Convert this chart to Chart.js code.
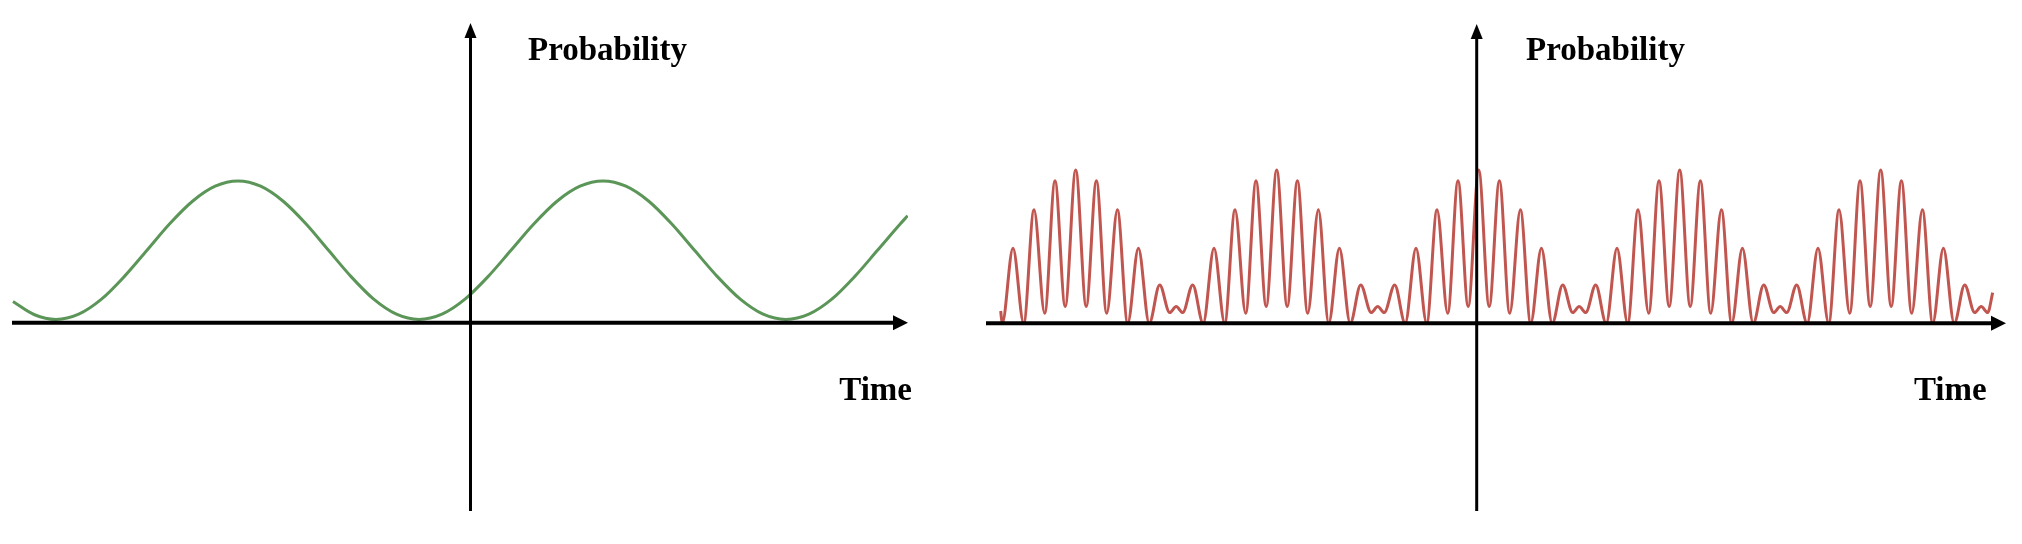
<!DOCTYPE html>
<html lang="en">
<head>
    <meta charset="UTF-8">
    <title>Probability vs Time</title>
    <script src="https://cdn.jsdelivr.net/npm/chart.js"></script>
    <style>
        body { margin: 0; background: #fff; }
        #wrap { position: relative; width: 2022px; height: 544px; background: #fff; }
        #wrap canvas { position: absolute; top: 0; }
    </style>
</head>
<body>
    <div id="wrap">
        <canvas id="leftChart" width="975" height="544" style="left:0"></canvas>
        <canvas id="rightChart" width="1047" height="544" style="left:975px"></canvas>
    </div>

    <script>
        // axis titles
        const yTitle = 'Probability';
        const xTitle = 'Time';

        // left panel: slow oscillation (time in 100px units, prob normalised to the peak)
        const greenTime = [-4.575, -4.360, -4.145, -3.918, -3.690, -3.463, -3.235, -3.008, -2.780, -2.553,
            -2.325, -2.099, -1.873, -1.646, -1.420, -1.194, -0.968, -0.741, -0.515, -0.285,
            -0.055, 0.175, 0.405, 0.635, 0.865, 1.095, 1.325, 1.554, 1.783, 2.011,
            2.240, 2.469, 2.698, 2.926, 3.155, 3.384, 3.613, 3.841, 4.070, 4.299, 4.372];
        const greenProb = [0.149, 0.056, 0.023, 0.060, 0.166, 0.325, 0.511, 0.698, 0.857, 0.963,
            1.0, 0.963, 0.857, 0.698, 0.511, 0.325, 0.166, 0.060, 0.023, 0.060,
            0.166, 0.325, 0.511, 0.698, 0.857, 0.963, 1.0, 0.963, 0.857, 0.698,
            0.511, 0.325, 0.166, 0.060, 0.023, 0.060, 0.166, 0.325, 0.511, 0.698, 0.755];

        // right panel: fast oscillation with beats (peaks and troughs)
        const redTime = [
            -4.760, -4.745, -4.637, -4.530, -4.427, -4.320, -4.217, -4.115, -4.010, -3.905,
            -3.803, -3.700, -3.593, -3.490, -3.383, -3.275, -3.170, -3.070, -3.005, -2.940,
            -2.840, -2.735, -2.627, -2.520, -2.417, -2.310, -2.207, -2.105, -2.000, -1.895,
            -1.793, -1.690, -1.583, -1.480, -1.373, -1.265, -1.160, -1.055, -0.990, -0.925,
            -0.820, -0.715, -0.607, -0.500, -0.397, -0.290, -0.187, -0.085, 0.020, 0.125,
            0.227, 0.330, 0.437, 0.540, 0.647, 0.755, 0.860, 0.960, 1.025, 1.090,
            1.190, 1.295, 1.403, 1.510, 1.613, 1.720, 1.823, 1.925, 2.030, 2.135,
            2.237, 2.340, 2.447, 2.550, 2.657, 2.765, 2.870, 2.970, 3.035, 3.100,
            3.200, 3.305, 3.413, 3.520, 3.623, 3.730, 3.833, 3.935, 4.040, 4.145,
            4.247, 4.350, 4.457, 4.560, 4.667, 4.775, 4.880, 4.980, 5.045, 5.110,
            5.160
        ];
        const redProb = [
            0.08, 0, 0.49, 0, 0.74, 0.065, 0.93, 0.11, 1.00, 0.11,
            0.93, 0.065, 0.74, 0, 0.49, 0, 0.25, 0.07, 0.11, 0.07,
            0.25, 0, 0.49, 0, 0.74, 0.065, 0.93, 0.11, 1.00, 0.11,
            0.93, 0.065, 0.74, 0, 0.49, 0, 0.25, 0.07, 0.11, 0.07,
            0.25, 0, 0.49, 0, 0.74, 0.065, 0.93, 0.11, 1.00, 0.11,
            0.93, 0.065, 0.74, 0, 0.49, 0, 0.25, 0.07, 0.11, 0.07,
            0.25, 0, 0.49, 0, 0.74, 0.065, 0.93, 0.11, 1.00, 0.11,
            0.93, 0.065, 0.74, 0, 0.49, 0, 0.25, 0.07, 0.11, 0.07,
            0.25, 0, 0.49, 0, 0.74, 0.065, 0.93, 0.11, 1.00, 0.11,
            0.93, 0.065, 0.74, 0, 0.49, 0, 0.25, 0.07, 0.11, 0.07,
            0.20
        ];

        // black axes through the origin with arrow heads, plus the two titles
        const arrowAxes = {
            id: 'arrowAxes',
            afterDatasetsDraw(chart, args, opts) {
                const { ctx, chartArea: a, scales } = chart;
                const x0 = scales.x.getPixelForValue(0);
                const y0 = scales.y.getPixelForValue(0);
                ctx.save();
                ctx.fillStyle = '#000';
                ctx.strokeStyle = '#000';

                ctx.lineWidth = 4;
                ctx.beginPath();
                ctx.moveTo(a.left, y0);
                ctx.lineTo(a.right - 12, y0);
                ctx.stroke();
                ctx.beginPath();
                ctx.moveTo(a.right, y0);
                ctx.lineTo(a.right - 15, y0 - 7.5);
                ctx.lineTo(a.right - 15, y0 + 7.5);
                ctx.closePath();
                ctx.fill();

                ctx.lineWidth = 3;
                ctx.beginPath();
                ctx.moveTo(x0, a.bottom);
                ctx.lineTo(x0, a.top + 12);
                ctx.stroke();
                ctx.beginPath();
                ctx.moveTo(x0, a.top);
                ctx.lineTo(x0 - 6, a.top + 15);
                ctx.lineTo(x0 + 6, a.top + 15);
                ctx.closePath();
                ctx.fill();

                ctx.font = 'bold 33px "Liberation Serif", "Times New Roman", serif';
                ctx.textBaseline = 'alphabetic';
                ctx.textAlign = 'left';
                ctx.fillText(yTitle, x0 + opts.yTitleDx, 60);
                ctx.textAlign = 'right';
                ctx.fillText(xTitle, a.right + opts.xTitleDx, 400);
                ctx.restore();
            }
        };

        function makeChart(id, times, probs, color, pad, xr, yr, titleOffsets) {
            const points = times.map((t, i) => ({ x: t, y: probs[i] }));
            return new Chart(document.getElementById(id), {
                type: 'line',
                data: {
                    datasets: [{
                        data: points,
                        borderColor: color,
                        borderWidth: 3,
                        pointRadius: 0,
                        fill: false,
                        cubicInterpolationMode: 'monotone'
                    }]
                },
                options: {
                    responsive: false,
                    animation: false,
                    layout: { padding: pad },
                    plugins: {
                        legend: { display: false },
                        tooltip: { enabled: false },
                        arrowAxes: titleOffsets
                    },
                    scales: {
                        x: { type: 'linear', display: false, min: xr[0], max: xr[1] },
                        y: { type: 'linear', display: false, min: yr[0], max: yr[1] }
                    }
                },
                plugins: [arrowAxes]
            });
        }

        makeChart('leftChart', greenTime, greenProb, '#5b9658',
            { left: 12, right: 67, top: 23, bottom: 33 },
            [-4.585, 4.375], [-1.329, 2.115],
            { yTitleDx: 57.5, xTitleDx: 4 });

        makeChart('rightChart', redTime, redProb, '#c0564f',
            { left: 11, right: 16, top: 24, bottom: 33 },
            [-4.907, 5.293], [-1.224, 1.952],
            { yTitleDx: 49.3, xTitleDx: -19.4 });
    </script>
</body>
</html>
